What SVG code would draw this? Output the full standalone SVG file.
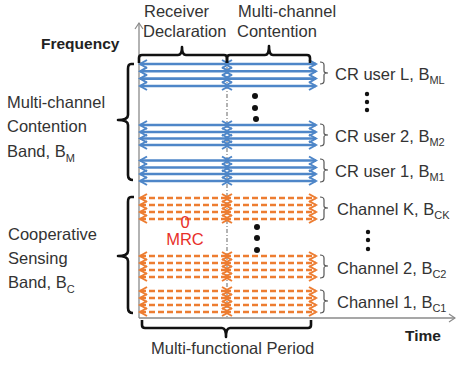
<svg xmlns="http://www.w3.org/2000/svg" width="456" height="365" viewBox="0 0 456 365">
<style>
text{font-family:"Liberation Sans",Arial,sans-serif;font-size:16.5px;fill:#333}
.b{font-weight:bold;font-size:15.5px;fill:#222}
.sub{font-size:11px}
.bl{stroke:#4E86C8;stroke-width:2.6;marker-start:url(#hb);marker-end:url(#hb)}
.or{stroke:#ED7D31;stroke-width:2.4;stroke-dasharray:6 3;marker-start:url(#ho);marker-end:url(#ho)}
.brace{fill:none;stroke:#111;stroke-width:2.6;stroke-linejoin:round}
.sb{fill:none;stroke:#555;stroke-width:1.2}
.ax{stroke:#8a8a8a;stroke-width:1.3;fill:none}
.red{fill:#E8302A}
</style>
<defs>
<marker id="hb" viewBox="-1 -1 10 10" refX="7" refY="4" markerWidth="10" markerHeight="10" markerUnits="userSpaceOnUse" orient="auto-start-reverse" overflow="visible"><path d="M0,0 L7,4 L0,8" fill="none" stroke="#4E86C8" stroke-width="2"/></marker>
<marker id="ho" viewBox="-1 -1 10 10" refX="7" refY="4" markerWidth="10" markerHeight="10" markerUnits="userSpaceOnUse" orient="auto-start-reverse" overflow="visible"><path d="M0,0 L7,4 L0,8" fill="none" stroke="#ED7D31" stroke-width="2"/></marker>
<marker id="ha" viewBox="-1 -1 10 10" refX="6" refY="4" markerWidth="10" markerHeight="10" markerUnits="userSpaceOnUse" orient="auto" overflow="visible"><path d="M0,0 L6,4 L0,8" fill="none" stroke="#8a8a8a" stroke-width="1.2"/></marker>
</defs>

<g id="axes">
<line class="ax" x1="139" y1="318" x2="139" y2="23" marker-end="url(#ha)"/>
<line class="ax" x1="139" y1="318" x2="455" y2="318" marker-end="url(#ha)"/>
<line class="ax" x1="227" y1="58" x2="227" y2="318" stroke-dasharray="4 2 1 2" stroke="#777"/>
<text class="b" x="41" y="49">Frequency</text>
<text class="b" x="405" y="341">Time</text>
</g>

<g id="connectors">
<g id="cr-user-L">
<line class="bl" x1="140" y1="64" x2="229" y2="64"/><line class="bl" x1="225" y1="64" x2="316" y2="64"/>
<line class="bl" x1="140" y1="71.3" x2="229" y2="71.3"/><line class="bl" x1="225" y1="71.3" x2="316" y2="71.3"/>
<line class="bl" x1="140" y1="78.6" x2="229" y2="78.6"/><line class="bl" x1="225" y1="78.6" x2="316" y2="78.6"/>
<line class="bl" x1="140" y1="86" x2="229" y2="86"/><line class="bl" x1="225" y1="86" x2="316" y2="86"/>
</g>
<g id="cr-user-2">
<line class="bl" x1="140" y1="125" x2="229" y2="125"/><line class="bl" x1="225" y1="125" x2="316" y2="125"/>
<line class="bl" x1="140" y1="132" x2="229" y2="132"/><line class="bl" x1="225" y1="132" x2="316" y2="132"/>
<line class="bl" x1="140" y1="138.5" x2="229" y2="138.5"/><line class="bl" x1="225" y1="138.5" x2="316" y2="138.5"/>
<line class="bl" x1="140" y1="145" x2="229" y2="145"/><line class="bl" x1="225" y1="145" x2="316" y2="145"/>
</g>
<g id="cr-user-1">
<line class="bl" x1="140" y1="160.5" x2="229" y2="160.5"/><line class="bl" x1="225" y1="160.5" x2="316" y2="160.5"/>
<line class="bl" x1="140" y1="167.5" x2="229" y2="167.5"/><line class="bl" x1="225" y1="167.5" x2="316" y2="167.5"/>
<line class="bl" x1="140" y1="174" x2="229" y2="174"/><line class="bl" x1="225" y1="174" x2="316" y2="174"/>
<line class="bl" x1="140" y1="181" x2="229" y2="181"/><line class="bl" x1="225" y1="181" x2="316" y2="181"/>
</g>
<g id="channel-K">
<line class="or" x1="140" y1="198" x2="229" y2="198"/><line class="or" x1="225" y1="198" x2="316" y2="198"/>
<line class="or" x1="140" y1="205" x2="229" y2="205"/><line class="or" x1="225" y1="205" x2="316" y2="205"/>
<line class="or" x1="140" y1="212" x2="229" y2="212"/><line class="or" x1="225" y1="212" x2="316" y2="212"/>
<line class="or" x1="140" y1="219" x2="229" y2="219"/><line class="or" x1="225" y1="219" x2="316" y2="219"/>
</g>
<g id="channel-2">
<line class="or" x1="140" y1="256" x2="229" y2="256"/><line class="or" x1="225" y1="256" x2="316" y2="256"/>
<line class="or" x1="140" y1="263" x2="229" y2="263"/><line class="or" x1="225" y1="263" x2="316" y2="263"/>
<line class="or" x1="140" y1="270" x2="229" y2="270"/><line class="or" x1="225" y1="270" x2="316" y2="270"/>
<line class="or" x1="140" y1="277" x2="229" y2="277"/><line class="or" x1="225" y1="277" x2="316" y2="277"/>
</g>
<g id="channel-1">
<line class="or" x1="140" y1="291" x2="229" y2="291"/><line class="or" x1="225" y1="291" x2="316" y2="291"/>
<line class="or" x1="140" y1="298" x2="229" y2="298"/><line class="or" x1="225" y1="298" x2="316" y2="298"/>
<line class="or" x1="140" y1="305" x2="229" y2="305"/><line class="or" x1="225" y1="305" x2="316" y2="305"/>
<line class="or" x1="140" y1="312" x2="229" y2="312"/><line class="or" x1="225" y1="312" x2="316" y2="312"/>
</g>
</g>

<g id="dots" fill="#111">
<circle cx="255" cy="96" r="3"/><circle cx="255" cy="108" r="3"/><circle cx="256" cy="119" r="3"/>
<circle cx="367" cy="94" r="2.2"/><circle cx="367" cy="102" r="2.2"/><circle cx="367" cy="110" r="2.2"/>
<circle cx="257" cy="227" r="3"/><circle cx="257" cy="238" r="3"/><circle cx="257" cy="250" r="3"/>
<circle cx="368" cy="232" r="2.2"/><circle cx="368" cy="240" r="2.2"/><circle cx="368" cy="249" r="2.2"/>
</g>

<g id="receiver-declaration">
<path class="brace" d="M139,63 V58 Q139,55 142,55 H178 Q182,55 182,47 Q182,55 186,55 H224 Q227,55 227,58 V63"/>
<text x="144" y="17">Receiver</text>
<text x="143" y="37">Declaration</text>
</g>
<g id="multichannel-contention">
<path class="brace" d="M227,63 V58 Q227,55 230,55 H265 Q269,55 269,46 Q269,55 273,55 H307 Q310,55 310,58 V63"/>
<text x="238" y="17">Multi-channel</text>
<text x="237" y="37">Contention</text>
</g>
<g id="mc-band">
<path class="brace" d="M134,64 H131 Q128,64 128,69 V115 Q128,120 118,120 Q128,120 128,125 V175 Q128,180 133,180"/>
<text x="7" y="108">Multi-channel</text>
<text x="7" y="132">Contention</text>
<text x="7" y="157">Band, B<tspan class="sub" dy="5">M</tspan></text>
</g>
<g id="cs-band">
<path class="brace" d="M134,197 H131 Q128,197 128,202 V251 Q128,256 118,256 Q128,256 128,261 V308 Q128,313 133,313"/>
<text x="8" y="240">Cooperative</text>
<text x="8" y="264">Sensing</text>
<text x="8" y="288">Band, B<tspan class="sub" dy="5">C</tspan></text>
</g>
<g id="period">
<path class="brace" d="M142,320 V325 Q142,328 145,328 H222 Q226,328 226,337 Q226,328 230,328 H308 Q311,328 311,325 V320"/>
<text x="151" y="354">Multi-functional Period</text>
</g>
<g id="mrc">
<text class="red" x="185" y="228" text-anchor="middle">0</text>
<text class="red" x="185" y="245" text-anchor="middle">MRC</text>
</g>

<g id="labels">
<g id="lbl-L"><path class="sb" d="M320,62 Q324,62 324,65 V71 Q324,73 328,73 Q324,73 324,75 V81 Q324,84 320,84"/><text x="335" y="80">CR user L, B<tspan class="sub" dy="4">ML</tspan></text></g>
<g id="lbl-u2"><path class="sb" d="M320,124 Q324,124 324,127 V133 Q324,135 328,135 Q324,135 324,137 V143 Q324,146 320,146"/><text x="335" y="142">CR user 2, B<tspan class="sub" dy="4">M2</tspan></text></g>
<g id="lbl-u1"><path class="sb" d="M320,159 Q324,159 324,162 V168 Q324,170 328,170 Q324,170 324,172 V179 Q324,182 320,182"/><text x="335" y="177">CR user 1, B<tspan class="sub" dy="4">M1</tspan></text></g>
<g id="lbl-K"><path class="sb" d="M320,197 Q324,197 324,200 V206 Q324,208 328,208 Q324,208 324,210 V217 Q324,220 320,220"/><text x="337" y="215">Channel K, B<tspan class="sub" dy="4">CK</tspan></text></g>
<g id="lbl-c2"><path class="sb" d="M320,255 Q324,255 324,258 V264 Q324,266 328,266 Q324,266 324,268 V275 Q324,278 320,278"/><text x="337" y="274">Channel 2, B<tspan class="sub" dy="4">C2</tspan></text></g>
<g id="lbl-c1"><path class="sb" d="M320,290 Q324,290 324,293 V299 Q324,301 328,301 Q324,301 324,303 V310 Q324,313 320,313"/><text x="337" y="308">Channel 1, B<tspan class="sub" dy="4">C1</tspan></text></g>
</g>
</svg>
